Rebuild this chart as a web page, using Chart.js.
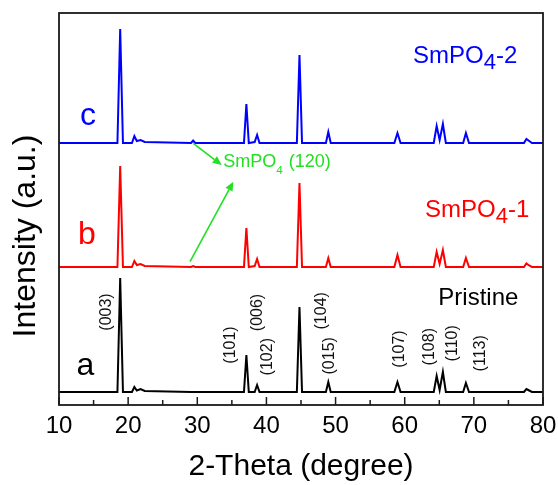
<!DOCTYPE html>
<html>
<head>
<meta charset="utf-8">
<script src="https://cdn.jsdelivr.net/npm/chart.js@4"></script>
<style>
    html, body { margin: 0; padding: 0; background: #fff; }
    canvas { display: block; }
</style>
</head>
<body>
<canvas id="xrd" width="558" height="485"></canvas>
<script>
/* ========== XRD patterns ========== */

const FONT = '"Liberation Sans", Arial, sans-serif';

// 2-theta positions (degree), shared by the three patterns
const theta = [10, 18.45, 18.85, 19.25, 20.55, 20.9, 21.25, 21.8, 22.4,
    29.1, 29.4, 29.7, 36.75, 37.1, 37.45, 38.3, 38.65, 39.0,
    44.4, 44.78, 45.15, 48.6, 48.95, 49.3, 58.5, 58.95, 59.4,
    64.2, 64.62, 65.05, 65.52, 65.95, 68.45, 68.85, 69.3,
    77.25, 77.6, 78.0, 78.4, 80];

// intensities above each baseline (a.u.)
const pristine = [0, 0, 114, 0, 0, 5, 1.5, 3, 1,
    0, 0, 0, 0, 37, 0, 0, 7, 0,
    0, 85, 0, 0, 10, 0, 0, 10, 0,
    0, 16, 2, 20, 0, 0, 9, 0,
    0, 3, 1.5, 0, 0];
const smpo41 = [0, 0, 101, 0, 0, 6, 2, 3, 1,
    0, 1, 0, 0, 39, 0, 1, 8, 0,
    0, 84, 0, 0, 9, 0, 0, 12, 0,
    0, 15, 3, 17, 0, 0, 9, 0,
    0, 3.5, 1.5, 0, 0];
const smpo42 = [0, 0, 114, 0, 0, 7, 2, 3, 1,
    0, 2.5, 0, 0, 39, 0, 1, 8, 0,
    0, 88, 0, 0, 11, 0, 0, 10, 0,
    0, 17, 3, 19, 0, 0, 10, 0,
    0, 4, 2, 0, 0];

const seriesNames = ['Pristine', 'SmPO4-1', 'SmPO4-2'];
const seriesColors = ['#000000', '#ff0000', '#0000ff'];
const offsets = [13, 138, 262];

// sample tags a / b / c
const tags = ['a', 'b', 'c'];
const tagTheta = [13.83, 14.05, 14.2];
const tagY = [39, 170, 288.5];

// series names written inside the plot
const nameTheta = [70.65, 62.94, 61.2];
const nameY = [107, 188.3, 341.7];

// Miller indices of the pristine peaks
const hklLabels = ['(003)', '(101)', '(006)', '(102)', '(104)', '(015)', '(107)', '(108)', '(110)', '(113)'];
const hklTheta = [16.9, 34.83, 38.68, 40.18, 48.0, 49.2, 59.22, 63.66, 66.94, 70.99];
const hklY = [93, 60, 92.5, 48.3, 94.2, 49.2, 56, 58.3, 61.7, 51.7];

// SmPO4 (120) note and its two arrows [fromTheta, fromY, toTheta, toY]
const noteTheta = 33.76;
const noteY = 238.3;
const arrows = [
    [29.42, 261.7, 33.53, 240],
    [28.95, 143.3, 35.21, 223.3],
];

const green = '#22e022';

function buildData(values, offset) {
    return theta.map((t, i) => ({ x: t, y: values[i] + offset }));
}

function drawChem(ctx, parts, x, y, size, color) {
    ctx.fillStyle = color;
    ctx.textAlign = 'left';
    ctx.textBaseline = 'alphabetic';
    let cx = x;
    parts.forEach(p => {
        const s = p.sub ? size * p.sub : size;
        ctx.font = `${s}px ${FONT}`;
        ctx.fillText(p.t, cx, y + (p.drop || 0));
        cx += ctx.measureText(p.t).width + (p.gap || 0);
    });
}

const decorations = {
    id: 'decorations',
    afterDatasetsDraw(chart) {
        const { ctx, chartArea: area } = chart;
        const xs = chart.scales.x;
        const ys = chart.scales.y;
        ctx.save();

        // frame
        ctx.strokeStyle = '#1a1a1a';
        ctx.lineWidth = 1.8;
        ctx.strokeRect(area.left, area.top, area.right - area.left, area.bottom - area.top);

        // inward ticks on the bottom axis
        ctx.lineWidth = 1.5;
        for (let v = xs.min; v <= xs.max; v += 5) {
            const px = xs.getPixelForValue(v);
            const len = v % 10 === 0 ? 8 : 5;
            ctx.beginPath();
            ctx.moveTo(px, area.bottom);
            ctx.lineTo(px, area.bottom - len);
            ctx.stroke();
        }

        // y axis title, drawn here to sit lower than the plot centre
        ctx.save();
        ctx.translate(26, 236);
        ctx.rotate(-Math.PI / 2);
        ctx.fillStyle = '#000';
        ctx.font = `32px ${FONT}`;
        ctx.textAlign = 'center';
        ctx.textBaseline = 'middle';
        ctx.fillText('Intensity (a.u.)', 0, 0);
        ctx.restore();

        // a / b / c
        ctx.font = `32px ${FONT}`;
        ctx.textAlign = 'center';
        ctx.textBaseline = 'middle';
        tags.forEach((t, i) => {
            ctx.fillStyle = seriesColors[i];
            ctx.fillText(t, xs.getPixelForValue(tagTheta[i]), ys.getPixelForValue(tagY[i]));
        });

        // series names
        ctx.fillStyle = '#000';
        ctx.font = `24px ${FONT}`;
        ctx.textBaseline = 'middle';
        ctx.fillText(seriesNames[0], xs.getPixelForValue(nameTheta[0]), ys.getPixelForValue(nameY[0]));
        for (let i = 1; i < 3; i++) {
            const name = seriesNames[i];
            drawChem(ctx, [
                { t: name.slice(0, 4) },
                { t: name.slice(4, 5), sub: 0.92, drop: 6 },
                { t: name.slice(5) },
            ], xs.getPixelForValue(nameTheta[i]), ys.getPixelForValue(nameY[i]), 24, seriesColors[i]);
        }

        // Miller indices
        ctx.fillStyle = '#111';
        ctx.font = `16px ${FONT}`;
        ctx.textAlign = 'center';
        ctx.textBaseline = 'middle';
        hklLabels.forEach((lab, i) => {
            ctx.save();
            ctx.translate(xs.getPixelForValue(hklTheta[i]), ys.getPixelForValue(hklY[i]));
            ctx.rotate(-Math.PI / 2);
            ctx.fillText(lab, 0, 0);
            ctx.restore();
        });

        // SmPO4 (120) note
        drawChem(ctx, [
            { t: 'SmPO' },
            { t: '4', sub: 0.65, drop: 7, gap: 6 },
            { t: '(120)' },
        ], xs.getPixelForValue(noteTheta), ys.getPixelForValue(noteY), 18, green);

        // arrows
        ctx.strokeStyle = green;
        ctx.fillStyle = green;
        ctx.lineWidth = 1.6;
        arrows.forEach(a => {
            const x0 = xs.getPixelForValue(a[0]), y0 = ys.getPixelForValue(a[1]);
            const x1 = xs.getPixelForValue(a[2]), y1 = ys.getPixelForValue(a[3]);
            const ang = Math.atan2(y1 - y0, x1 - x0);
            const head = 9, half = 4;
            const bx = x1 - head * Math.cos(ang), by = y1 - head * Math.sin(ang);
            ctx.beginPath();
            ctx.moveTo(x0, y0);
            ctx.lineTo(bx, by);
            ctx.stroke();
            ctx.beginPath();
            ctx.moveTo(x1, y1);
            ctx.lineTo(bx + half * Math.sin(ang), by - half * Math.cos(ang));
            ctx.lineTo(bx - half * Math.sin(ang), by + half * Math.cos(ang));
            ctx.closePath();
            ctx.fill();
        });

        ctx.restore();
    },
};

const datasets = [pristine, smpo41, smpo42].map((vals, i) => ({
    label: seriesNames[i],
    data: buildData(vals, offsets[i]),
    borderColor: seriesColors[i],
    backgroundColor: seriesColors[i],
    borderWidth: 2,
    pointRadius: 0,
    showLine: true,
    tension: 0,
}));

new Chart(document.getElementById('xrd').getContext('2d'), {
    type: 'scatter',
    data: { datasets },
    options: {
        responsive: false,
        animation: false,
        layout: { padding: { top: 13, right: 15, left: 0, bottom: 0 } },
        plugins: {
            legend: { display: false },
            tooltip: { enabled: false },
        },
        scales: {
            x: {
                type: 'linear',
                min: 10,
                max: 80,
                grid: { display: false },
                border: { display: false },
                ticks: {
                    stepSize: 10,
                    color: '#000',
                    padding: -1,
                    font: { family: FONT, size: 24 },
                    maxRotation: 0,
                },
                title: {
                    display: true,
                    text: '2-Theta (degree)',
                    color: '#000',
                    font: { family: FONT, size: 30 },
                    padding: { top: 0, bottom: 0 },
                },
                afterFit: s => { s.height = 80; },
            },
            y: {
                min: 0,
                max: 392,
                grid: { display: false },
                border: { display: false },
                ticks: { display: false },
                afterFit: s => { s.width = 59; },
            },
        },
    },
    plugins: [decorations],
});
</script>
</body>
</html>
